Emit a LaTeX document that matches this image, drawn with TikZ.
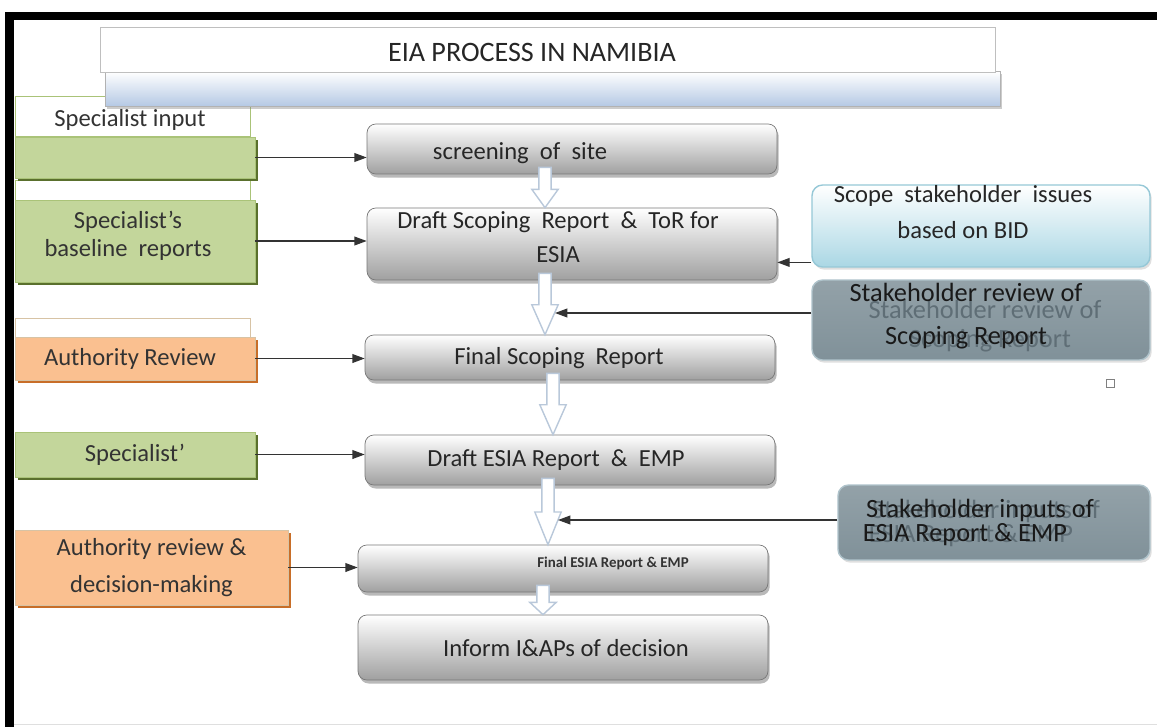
\documentclass[tikz,border=0pt]{standalone}
\usepackage{fontspec}
\setmainfont{Carlito}
\usetikzlibrary{arrows.meta, positioning, shadows, calc}
\definecolor{specgreen}{RGB}{195,214,155}
\definecolor{specedge}{RGB}{90,112,45}
\definecolor{specline}{RGB}{170,195,120}
\definecolor{authorange}{RGB}{250,192,144}
\definecolor{authedge}{RGB}{200,110,40}
\definecolor{authline}{RGB}{215,195,165}
\definecolor{stepgray}{RGB}{160,160,160}
\definecolor{stepedge}{RGB}{120,120,120}
\definecolor{bidcyan}{RGB}{170,215,228}
\definecolor{bidedge}{RGB}{150,200,215}
\definecolor{revgray}{RGB}{128,145,153}
\definecolor{revedge}{RGB}{175,195,203}
\definecolor{ghost}{RGB}{95,110,118}
\definecolor{barblue}{RGB}{180,200,228}
\definecolor{flowedge}{RGB}{185,200,218}

\newcommand{\boxfont}{\fontsize{14}{16}\selectfont}
\newcommand{\hollowflow}[3]{% upper box, lower box, x (px)
  \path (#3,0 |- #1.south) coordinate (ftop) (#3,0 |- #2.north) coordinate (fbot);
  \draw[flow] let \p1=(ftop), \p2=(fbot), \p3=($(ftop)!0.45!(fbot)$) in
    (\x1-3.5pt,\y1+4pt) -- (\x1+3.5pt,\y1+4pt) -- (\x1+3.5pt,\y3) -- (\x1+7.5pt,\y3)
    -- (\x2,\y2) -- (\x1-7.5pt,\y3) -- (\x1-3.5pt,\y3) -- cycle;}

\begin{document}
\begin{tikzpicture}[x=0.02cm, y=-0.02cm,
    stepbox/.style={draw=stepedge, rounded corners=5pt, top color=white, bottom color=stepgray,
      drop shadow={shadow xshift=1pt, shadow yshift=-2pt, opacity=0.55},
      minimum width=8.2cm, align=center, font=\boxfont, text=black!85, inner sep=2pt},
    steptext/.style={font=\boxfont, text=black!85, align=center},
    specbox/.style={draw=specline, fill=specgreen, minimum width=4.8cm, align=center, font=\boxfont,
      text=black!80, drop shadow={shadow xshift=1.5pt, shadow yshift=-1.5pt, fill=specedge, opacity=1}},
    authbox/.style={specbox, draw=authline, fill=authorange,
      drop shadow={shadow xshift=1.5pt, shadow yshift=-1.5pt, fill=authedge, opacity=1}},
    outbox/.style={draw=specline, fill=white, minimum width=4.7cm, align=center, font=\boxfont, text=black!80},
    bidbox/.style={draw=bidedge, rounded corners=6pt, top color=white, bottom color=bidcyan,
      minimum width=6.76cm, line width=0.8pt,
      drop shadow={shadow xshift=1pt, shadow yshift=-1.5pt, opacity=0.25}},
    revbox/.style={draw=revedge, rounded corners=6pt, top color=revgray!85, bottom color=revgray,
      line width=0.8pt, drop shadow={shadow xshift=1pt, shadow yshift=-1.5pt, opacity=0.25}},
    revtext/.style={font=\fontsize{15}{17}\selectfont, text=black!90},
    link/.style={-{Triangle[length=7pt, width=5pt]}, line width=0.7pt, black!80},
    flow/.style={draw=flowedge, fill=white, line width=0.8pt}]

    \useasboundingbox (0,0) rectangle (1157,727);
    \fill[white] (0,0) rectangle (1157,727);

    % Frame
    \fill[black] (5,12) rectangle (1157,20);
    \fill[black] (5,12) rectangle (14,727);
    \draw[gray!25] (14,724) -- (1157,724);

    % Left inputs (outline boxes behind)
    \node[outbox, minimum height=0.8cm] (out1) at (132.5,116) {};
    \node[font=\boxfont, text=black!80] (out1txt) at (130,120) {Specialist input};
    \node[outbox, minimum height=1.64cm] (out2) at (132.5,221) {};
    \node[outbox, draw=authline, minimum height=0.44cm] (out3) at (132.5,329) {};

    % Title
    \node[draw=gray!60, top color=white, bottom color=barblue, minimum width=17.9cm, minimum height=0.7cm,
      drop shadow={shadow xshift=1pt, shadow yshift=-1.5pt, opacity=0.4}] (bar) at (552.5,89) {};
    \node[draw=gray!50, fill=white, minimum width=17.9cm, minimum height=0.9cm] (title) at (547.5,49.5) {};
    \node[font=\fontsize{16}{18}\selectfont, text=black!85] (titletxt) at (532,52) {EIA PROCESS IN NAMIBIA};

    \node[specbox, minimum height=0.82cm] (spec1) at (135,157.5) {};
    \node[specbox, minimum height=1.64cm] (spec2) at (135,241) {};
    \node[text=black!80, align=center, font=\boxfont] (spec2txt) at (128,236)
      {Specialist's\\baseline\ \ reports};
    \node[authbox, minimum height=0.86cm] (auth1) at (135,358.5) {};
    \node[font=\boxfont, text=black!80] (auth1txt) at (130,359) {Authority Review};
    \node[specbox, minimum height=0.9cm] (spec3) at (135,454.5) {Specialist'};
    \node[authbox, minimum width=5.46cm, minimum height=1.5cm,
      font=\fontsize{14}{21}\selectfont] (auth2) at (151.5,567.5) {Authority review \&\\decision-making};

    % Process steps
    \node[stepbox, minimum height=1.0cm] (screen) at (572,149) {};
    \node[steptext] (screentxt) at (520,153) {screening\ \ of\ \ site};
    \node[stepbox, minimum height=1.44cm] (dscope) at (572,244) {};
    \node[steptext] (dscopetxt) at (558,237)
      {Draft Scoping\ \ Report\ \ \& \ ToR for\\[3pt]ESIA};
    \node[stepbox, minimum height=0.9cm] (fscope) at (570,357.5) {};
    \node[steptext] (fscopetxt) at (559,358) {Final Scoping\ \ Report};
    \node[stepbox, minimum height=1.0cm] (desia) at (570,460) {};
    \node[steptext] (desiatxt) at (556,460) {Draft ESIA Report\ \ \& \ EMP};
    \node[stepbox, minimum height=0.94cm] (fesia) at (563,568.5) {};
    \node[font=\fontsize{8.5}{9}\selectfont\bfseries, text=black!80] (fesiatxt) at (613,563) {Final ESIA Report \& EMP};
    \node[stepbox, minimum height=1.3cm] (inform) at (563,647.5) {};
    \node[steptext] (informtxt) at (566,648) {Inform I\&APs of decision};

    % Stakeholders
    \node[bidbox, minimum height=1.64cm] (scope) at (981,226) {};
    \node[font=\boxfont, text=black!85, align=center] (scopetxt) at (963,212)
      {Scope\ \ stakeholder\ \ issues\\[4pt]based on BID};
    \node[revbox, minimum width=6.76cm, minimum height=1.6cm] (srev) at (981,320) {};
    \node[revtext, text=ghost] at (985,309) {Stakeholder review of};
    \node[revtext, text=ghost] at (990,341) {Scoping Report};
    \node[revtext] (srevtxt1) at (966,292) {Stakeholder review of};
    \node[revtext] (srevtxt2) at (966,338) {Scoping Report};
    \node[draw=gray, line width=0.5pt, minimum size=0.16cm, inner sep=0pt] (mark) at (1110,383) {};
    \node[revbox, minimum width=6.24cm, minimum height=1.5cm] (sinp) at (994,522.5) {};
    \node[revtext, text=ghost] at (986,511) {Stakeholder inputs of};
    \node[revtext, text=ghost] at (971,536) {ESIA Report \& EMP};
    \node[revtext] (sinptxt1) at (980,510) {Stakeholder inputs of};
    \node[revtext] (sinptxt2) at (965,535) {ESIA Report \& EMP};

    % Flow between steps
    \hollowflow{screen}{dscope}{545}
    \hollowflow{dscope}{fscope}{545}
    \hollowflow{fscope}{desia}{553}
    \hollowflow{desia}{fesia}{548}
    \hollowflow{fesia}{inform}{543}

    % Inputs
    \draw[link] (spec1.east) -- (spec1.east -| screen.west);
    \draw[link] (spec2.east) -- (spec2.east -| dscope.west);
    \draw[link] (auth1.east) -- (auth1.east -| fscope.west);
    \draw[link] (spec3.east) -- (spec3.east -| desia.west);
    \draw[link] (auth2.east) -- (auth2.east -| fesia.west);

    \coordinate (bidout) at ([yshift=3pt]scope.south west);
    \draw[link] (bidout) -- (bidout -| dscope.east);
    \coordinate (revjoin) at (555,313);
    \draw[link] (srev.west |- revjoin) -- (revjoin);
    \coordinate (inpjoin) at (558,520);
    \draw[link] (sinp.west |- inpjoin) -- (inpjoin);
\end{tikzpicture}
\end{document}
